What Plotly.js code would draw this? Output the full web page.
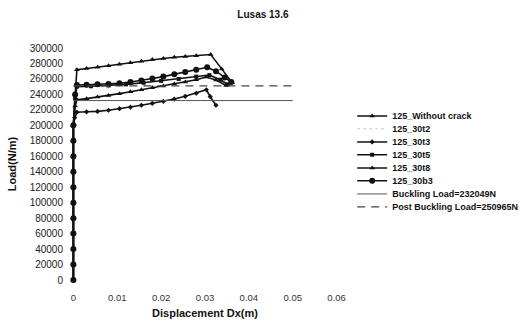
<!DOCTYPE html>
<html>
<head>
<meta charset="utf-8">
<script src="https://cdn.plot.ly/plotly-3.0.1.min.js"></script>
<style>html,body{margin:0;padding:0;background:#fff;}#chart{width:528px;height:322px;}</style>
</head>
<body>
<div id="chart"></div>
<script>
// Shared elastic (vertical) branch
var elasticDisp = [0, 0, 0, 0, 0, 0, 0, 0, 0, 0, 0];
var elasticLoad = [0, 20000, 40000, 60000, 80000, 100000, 120000, 140000, 160000, 180000, 200000];

// 125_Without crack
var woDisp = [0.0004, 0.0008, 0.003, 0.0055, 0.008, 0.0105, 0.013, 0.0155, 0.018, 0.0205, 0.023, 0.0255, 0.028, 0.0313, 0.0338, 0.0362];
var woLoad = [240000, 272000, 273500, 275000, 277000, 279000, 281000, 283000, 285000, 286500, 288000, 289000, 290000, 291500, 273000, 255000];

// 125_30t2 (dotted, faint)
var t2Disp = [0.0004, 0.0008, 0.005, 0.01, 0.015, 0.02, 0.025, 0.031, 0.0335, 0.0355];
var t2Load = [235000, 250000, 251000, 253000, 255500, 258000, 261000, 264000, 258000, 252000];

// 125_30t3 (lowest branch)
var t3Disp = [0.0003, 0.0008, 0.003, 0.0055, 0.008, 0.0105, 0.013, 0.0155, 0.018, 0.0205, 0.023, 0.0255, 0.028, 0.0303, 0.0312, 0.0325];
var t3Load = [210000, 217000, 217500, 218000, 219500, 221500, 223500, 226000, 228500, 231000, 234000, 237500, 241500, 246000, 237000, 226000];

// 125_30t5
var t5Disp = [0.0004, 0.0008, 0.004, 0.008, 0.012, 0.016, 0.02, 0.024, 0.028, 0.031, 0.0335, 0.0352];
var t5Load = [235000, 250000, 250500, 251500, 253000, 255000, 257500, 260000, 263000, 265000, 259000, 253000];

// 125_30t8
var t8Disp = [0.0004, 0.0008, 0.003, 0.0055, 0.008, 0.0105, 0.013, 0.0155, 0.018, 0.0205, 0.023, 0.0255, 0.028, 0.0303, 0.0325, 0.0348];
var t8Load = [225000, 233000, 234500, 236500, 238500, 241000, 243500, 246000, 248500, 251000, 253500, 256000, 259000, 262500, 258500, 251500];

// 125_30b3
var b3Disp = [0.0004, 0.0008, 0.003, 0.0055, 0.008, 0.0105, 0.013, 0.0155, 0.018, 0.0205, 0.023, 0.0255, 0.028, 0.0305, 0.0325, 0.0345, 0.036];
var b3Load = [240000, 252000, 252500, 253000, 253500, 254500, 256000, 258000, 260500, 263000, 266000, 269000, 272000, 275000, 270000, 262000, 256000];

// Reference loads
var refDisp = [0, 0.05];
var bucklingLoad = [232049, 232049];
var postBucklingLoad = [250965, 250965];

var seriesNames = ['125_Without crack', '125_30t2', '125_30t3', '125_30t5', '125_30t8', '125_30b3',
                   'Buckling Load=232049N', 'Post Buckling Load=250965N'];

var xTickVals = [0, 0.01, 0.02, 0.03, 0.04, 0.05, 0.06];
var xTickText = ['0', '0.01', '0.02', '0.03', '0.04', '0.05', '0.06'];
var yTickVals = [0, 20000, 40000, 60000, 80000, 100000, 120000, 140000, 160000, 180000, 200000, 220000, 240000, 260000, 280000, 300000];
var yTickText = ['0', '20000', '40000', '60000', '80000', '100000', '120000', '140000', '160000', '180000', '200000', '220000', '240000', '260000', '280000', '300000'];

function withElastic(d, l) {
  return {x: elasticDisp.concat(d), y: elasticLoad.concat(l)};
}

var ink = '#111';
function curve(name, d, l, sym, msize, leg, grp) {
  var c = withElastic(d, l);
  return {
    type: 'scatter', mode: 'lines+markers', name: name, x: c.x, y: c.y,
    line: {color: ink, width: 1.6}, marker: {color: ink, symbol: sym, size: msize},
    cliponaxis: false, legend: leg, legendgroup: grp
  };
}

var traces = [
  curve(seriesNames[0], woDisp, woLoad, 'triangle-up', 5, 'legend', 'g1'),
  (function () {
    var c = withElastic(t2Disp, t2Load);
    return {type: 'scatter', mode: 'lines', name: seriesNames[1], x: c.x, y: c.y,
      line: {color: '#c8c8c8', width: 1, dash: 'dot'}, legend: 'legend2', legendgroup: 'g2'};
  })(),
  curve(seriesNames[2], t3Disp, t3Load, 'diamond', 4, 'legend', 'g3'),
  curve(seriesNames[3], t5Disp, t5Load, 'square', 4, 'legend2', 'g4'),
  curve(seriesNames[4], t8Disp, t8Load, 'triangle-up', 5, 'legend', 'g5'),
  curve(seriesNames[5], b3Disp, b3Load, 'circle', 6, 'legend2', 'g6'),
  {type: 'scatter', mode: 'lines', name: seriesNames[6], x: refDisp, y: bucklingLoad,
   line: {color: '#555', width: 1}, legend: 'legend', legendgroup: 'g7'},
  {type: 'scatter', mode: 'lines', name: seriesNames[7], x: refDisp, y: postBucklingLoad,
   line: {color: '#444', width: 1.2, dash: '8px,6px'}, legend: 'legend2', legendgroup: 'g8'}
];

var legFont = {family: 'Arial, "Liberation Sans", sans-serif', size: 9, color: '#111', weight: 'bold'};
var layout = {
  width: 528, height: 322,
  margin: {l: 69, r: 187, t: 48, b: 42},
  paper_bgcolor: '#fff', plot_bgcolor: '#fff',
  font: {family: 'Arial, "Liberation Sans", sans-serif', size: 10, color: '#222'},
  title: {text: 'Lusas 13.6', x: 0.498, xanchor: 'center', y: 0.955, yanchor: 'middle',
          font: {size: 10, weight: 'bold', color: '#111'}},
  xaxis: {
    range: [-0.001, 0.061], tickvals: xTickVals, ticktext: xTickText,
    showgrid: false, zeroline: false, showline: false,
    ticks: 'outside', ticklen: 9, tickcolor: 'rgba(0,0,0,0)',
    tickfont: {size: 9.5, color: '#333'},
    title: {text: 'Displacement Dx(m)', standoff: 6, font: {size: 11, weight: 'bold', color: '#111'}}
  },
  yaxis: {
    range: [0, 300000], tickvals: yTickVals, ticktext: yTickText,
    showgrid: false, zeroline: false, showline: false,
    ticks: 'outside', ticklen: 3, tickcolor: 'rgba(0,0,0,0)',
    tickfont: {size: 10, color: '#222'},
    title: {text: 'Load(N/m)', standoff: 10, font: {size: 11, weight: 'bold', color: '#111'}}
  },
  legend: {xref: 'container', yref: 'container', x: 0.667, y: 0.685, xanchor: 'left', yanchor: 'top',
           font: legFont, bgcolor: 'rgba(0,0,0,0)', tracegroupgap: 7, traceorder: 'grouped'},
  legend2: {xref: 'container', yref: 'container', x: 0.667, y: 0.645, xanchor: 'left', yanchor: 'top',
           font: legFont, bgcolor: 'rgba(0,0,0,0)', tracegroupgap: 7, traceorder: 'grouped'},
  showlegend: true
};

Plotly.newPlot('chart', traces, layout, {displayModeBar: false, staticPlot: true});
</script>
</body>
</html>
